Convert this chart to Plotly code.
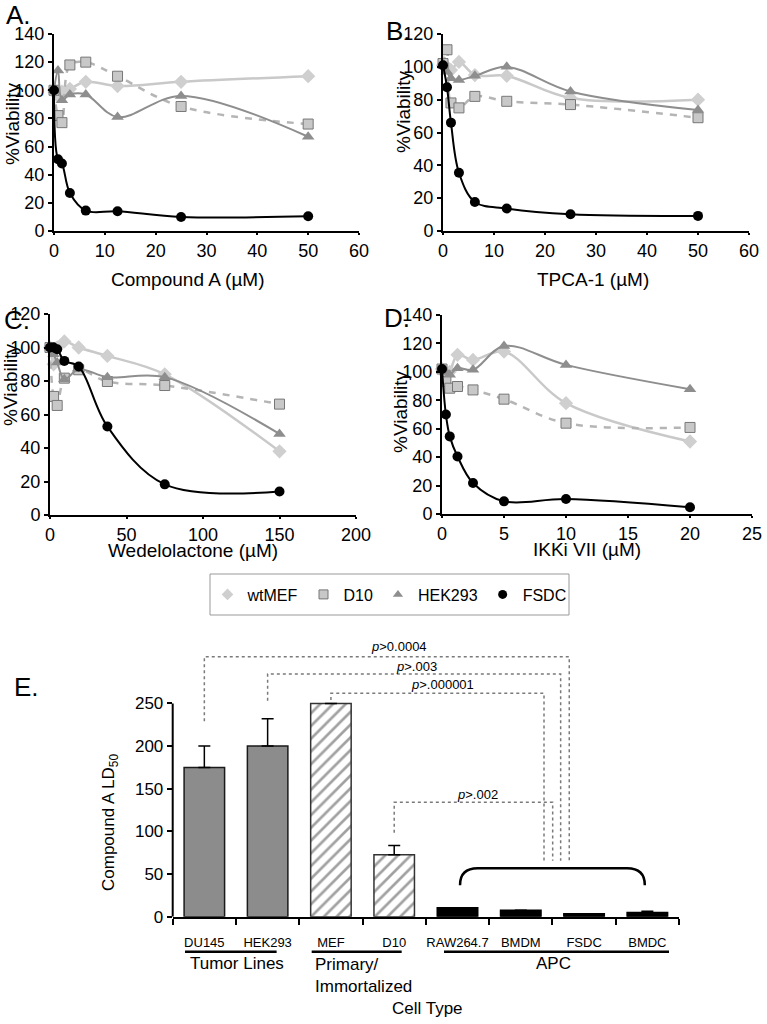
import plotly.graph_objects as go

W, H = 767, 1024
FONT = "Liberation Sans, Arial, sans-serif"


def px(x):
    """pixel x -> paper x"""
    return x / W


def py(y):
    """pixel y (from top) -> paper y"""
    return 1 - y / H


series = ["wtMEF", "D10", "HEK293", "FSDC"]

# Panel A: Compound A
conc_a = [0, 0.78, 1.56, 3.125, 6.25, 12.5, 25, 50]
wtmef_a = [100, 96, 99, 101, 106, 103, 106, 110]
d10_a = [100, 82, 77, 118, 120, 110, 88.5, 76]
hek_a = [100, 114, 93, 97, 97, 81, 96, 67]
fsdc_a = [100, 51, 48, 27, 14.5, 14, 10, 10.5]

# Panel B: TPCA-1
conc_b = [0, 0.78, 1.56, 3.125, 6.25, 12.5, 25, 50]
wtmef_b = [101, 100, 98, 103, 95, 94.5, 81, 80]
d10_b = [102, 110.4, 78, 75, 82, 79, 77, 69]
hek_b = [102, 97, 93, 92, 94.5, 100, 85, 73.7]
fsdc_b = [101, 87.6, 66, 35.5, 17.7, 13.7, 10.2, 9.2]

# Panel C: Wedelolactone
conc_c = [0, 2.34, 4.69, 9.375, 18.75, 37.5, 75, 150]
wtmef_c = [100, 90, 100, 103.6, 100, 95, 84, 38]
d10_c = [100, 70.8, 65.4, 81.7, 86.7, 79.7, 77.3, 66.2]
hek_c = [100, 96, 91, 81, 87, 82.3, 82.3, 48.4]
fsdc_c = [100, 100, 99, 92, 88.7, 52.8, 18.3, 14]

# Panel D: IKKi VII
conc_d = [0, 0.3125, 0.625, 1.25, 2.5, 5, 10, 20]
wtmef_d = [102, 98, 100, 112, 108.4, 114.3, 78, 51]
d10_d = [102, 93.2, 88.5, 89.7, 87.3, 80.8, 63.9, 60.9]
hek_d = [102, 100, 98, 102.6, 101.4, 118.2, 104.9, 87.8]
fsdc_d = [102, 70, 54.6, 40.5, 21.8, 8.9, 10.5, 4.7]

# Panel E: LD50 by cell type
cells = ["DU145", "HEK293", "MEF", "D10", "RAW264.7", "BMDM", "FSDC", "BMDC"]
ld50 = [175, 200, 250, 72.5, 10.5, 7.5, 3.5, 5]
ld50_err = [25, 32, None, 11, None, None, None, 1.5]

STYLE = {
    "wtMEF": dict(line=dict(color="#c9c9c9", width=2.5),
                  marker=dict(symbol="diamond", size=11, color="#cfcfcf")),
    "D10": dict(line=dict(color="#b5b5b5", width=2.5, dash="7px,7px"),
                marker=dict(symbol="square", size=10, color="#c8c8c8",
                            line=dict(color="#777777", width=1))),
    "HEK293": dict(line=dict(color="#8e8e8e", width=2),
                   marker=dict(symbol="triangle-up", size=11, color="#8e8e8e")),
    "FSDC": dict(line=dict(color="black", width=2),
                 marker=dict(symbol="circle", size=10, color="black")),
}

panels = [
    # axis suffix, conc, values, x range, x dtick, y range, domain px (x0, x1, ytop, ybottom)
    ("", conc_a, [wtmef_a, d10_a, hek_a, fsdc_a], [0, 60], 10, [0, 140], (54, 359, 34, 231)),
    ("2", conc_b, [wtmef_b, d10_b, hek_b, fsdc_b], [0, 60], 10, [0, 120], (443, 749, 34, 231)),
    ("3", conc_c, [wtmef_c, d10_c, hek_c, fsdc_c], [0, 200], 50, [0, 120], (50, 356, 314, 515)),
    ("4", conc_d, [wtmef_d, d10_d, hek_d, fsdc_d], [0, 25], 5, [0, 140], (442, 752, 315, 514)),
]

fig = go.Figure()
layout_axes = {}

for suffix, conc, vals, xr, xdt, yr, (x0, x1, yt, yb) in panels:
    for name, v in zip(series, vals):
        st = STYLE[name]
        fig.add_trace(go.Scatter(
            x=conc, y=v, name=name, mode="lines+markers",
            line=dict(st["line"], shape="spline", smoothing=1),
            marker=st["marker"], showlegend=False, cliponaxis=False,
            xaxis="x" + suffix, yaxis="y" + suffix,
        ))
    common = dict(showline=True, linecolor="black", linewidth=2, ticks="outside",
                  tickwidth=1.5, tickcolor="black", showgrid=False,
                  zeroline=False, tickfont=dict(size=18, color="black"))
    layout_axes["xaxis" + suffix] = dict(common, domain=[px(x0), px(x1)], range=xr, ticklen=2,
                                         dtick=xdt, tick0=0, anchor="y" + suffix)
    layout_axes["yaxis" + suffix] = dict(common, domain=[py(yb), py(yt)], range=yr, ticklen=4,
                                         dtick=20, tick0=0, anchor="x" + suffix)

# legend-only traces
for name in series:
    m = dict(STYLE[name]["marker"])
    m["size"] = 9
    fig.add_trace(go.Scatter(x=[None], y=[None], name=name, mode="markers",
                             marker=m, showlegend=True))

# bar chart E
bar_pos = list(range(len(cells)))
bar_colors = ["#8c8c8c", "#8c8c8c", "white", "white", "black", "black", "black", "black"]
bar_lines = ["#1a1a1a", "#1a1a1a", "#333333", "#333333", "black", "black", "black", "black"]
bar_hatch = ["", "", "/", "/", "", "", "", ""]
err_minus = [0 if e else None for e in ld50_err]

fig.add_trace(go.Bar(
    x=bar_pos, y=ld50, width=0.64, showlegend=False,
    marker=dict(color=bar_colors, line=dict(color=bar_lines, width=1.5),
                pattern=dict(shape=bar_hatch, fgcolor="#a8a8a8", size=9,
                             solidity=0.3, fillmode="overlay")),
    error_y=dict(type="data", symmetric=False, array=ld50_err, arrayminus=err_minus,
                 color="black", thickness=1.5, width=6),
    xaxis="x5", yaxis="y5",
))

e_x0, e_x1, e_y0 = 172.7, 679, 916.7
e_scale = 213.3 / 250  # px per unit
e_top = 330
layout_axes["xaxis5"] = dict(
    domain=[px(e_x0), px(e_x1)], range=[-0.5, len(cells) - 0.5], anchor="y5",
    showline=True, linecolor="black", linewidth=2, showgrid=False, zeroline=False,
    tickmode="array", tickvals=bar_pos, ticktext=cells, ticks="",
    tickfont=dict(size=13, color="black"), ticklabelstandoff=13,
    minor=dict(tickmode="linear", tick0=-0.5, dtick=1, ticks="outside",
               ticklen=6, tickwidth=1.5, tickcolor="black", showgrid=False),
)
layout_axes["yaxis5"] = dict(
    domain=[py(e_y0), py(e_y0 - e_top * e_scale)], range=[0, e_top], anchor="x5",
    showline=False, showgrid=False, zeroline=False, tickmode="array",
    tickvals=[0, 50, 100, 150, 200, 250], ticks="outside", ticklen=5, tickwidth=1.5,
    tickcolor="black", tickfont=dict(size=17, color="black"),
)

shapes = []
# E y-axis line (only up to 250)
shapes.append(dict(type="line", xref="paper", yref="y5", x0=px(e_x0), x1=px(e_x0),
                   y0=0, y1=250, line=dict(color="black", width=2)))

# significance brackets: (left x, left start y, top y, right x, label, label x, label y)
sig_lines = [
    (0, 229, 304.7, 5.766, "<i>p</i>&gt;0.0004", 3.08, 316.4),
    (1, 253, 284.4, 5.630, "<i>p</i>&gt;.003", 3.35, 293.8),
    (2, 254, 261.8, 5.367, "<i>p</i>&gt;.000001", 3.76, 272.7),
    (3, 98.4, 134, 5.504, "<i>p</i>&gt;.002", 4.31, 143.8),
]
sig_bottom = 65.6
annotations = []
for xl, ys, yt, xr, label, lx, ly in sig_lines:
    shapes.append(dict(
        type="path", xref="x5", yref="y5",
        path=f"M {xl},{ys} L {xl},{yt} L {xr},{yt} L {xr},{sig_bottom}",
        line=dict(color="#7a7a7a", width=1.5, dash="dot"),
    ))
    annotations.append(dict(xref="x5", yref="y5", x=lx, y=ly, text=label, showarrow=False,
                            xanchor="center", yanchor="middle",
                            font=dict(size=13, color="black")))

# APC curly bracket
shapes.append(dict(type="path", xref="x5", yref="y5",
                   path="M 4.04,37 Q 4.04,56.7 4.32,56.7 L 6.68,56.7 Q 6.96,56.7 6.96,37",
                   line=dict(color="black", width=2.5)))

# group underlines
for xa, xb in [(-0.306, 1.142), (1.696, 3.118), (3.787, 7.342)]:
    shapes.append(dict(type="line", xref="x5", yref="paper", x0=xa, x1=xb,
                       y0=py(951.7), y1=py(951.7), line=dict(color="black", width=2.5)))

# legend frame
shapes.append(dict(type="rect", xref="paper", yref="paper", x0=px(210), x1=px(569),
                   y0=py(615), y1=py(574), line=dict(color="#999999", width=1),
                   fillcolor="white", layer="below"))


def note(text, x, y, size, **kw):
    d = dict(xref="paper", yref="paper", x=px(x), y=py(y), text=text, showarrow=False,
             xanchor="center", yanchor="middle", font=dict(size=size))
    d.update(kw)
    return d


annotations += [
    dict(xref="x5", yref="paper", x=0.516, y=py(963.5), text="Tumor Lines",
         showarrow=False, xanchor="center", yanchor="middle", font=dict(size=17)),
    dict(xref="x5", yref="paper", x=1.72, y=py(953), text="Primary/<br>Immortalized",
         showarrow=False, xanchor="left", yanchor="top", align="left", font=dict(size=17)),
    dict(xref="x5", yref="paper", x=5.51, y=py(963.5), text="APC",
         showarrow=False, xanchor="center", yanchor="middle", font=dict(size=17)),
    note("Cell Type", 427, 1008, 17),
    note("Compound A LD<sub>50</sub>", 110, 823, 17, textangle=-90),
]

# line-panel axis titles and labels
for text, x, y in [("Compound A (µM)", 188, 279), ("TPCA-1 (µM)", 593, 279),
                   ("Wedelolactone (µM)", 193, 550), ("IKKi VII (µM)", 587, 549)]:
    annotations.append(note(text, x, y, 19))
for x, y in [(12, 124), (403, 112), (10, 385), (400, 412)]:
    annotations.append(note("%Viability", x, y, 19, textangle=-90))
for text, x, y in [("A.", 4, 15), ("B.", 384, 31), ("C.", 2, 320), ("D.", 382, 318), ("E.", 12, 687)]:
    annotations.append(note(text, x, y, 26, xanchor="left"))

fig.update_layout(
    width=W, height=H, margin=dict(l=0, r=0, t=0, b=0, autoexpand=False),
    paper_bgcolor="white", plot_bgcolor="white",
    font=dict(family=FONT, color="black"),
    showlegend=True,
    legend=dict(orientation="h", x=px(389.5), xanchor="center", y=py(594.5), yanchor="middle",
                borderwidth=0, bgcolor="rgba(0,0,0,0)", font=dict(size=16)),
    shapes=shapes, annotations=annotations,
    **layout_axes,
)

fig.write_html("out.html", config={"displayModeBar": False},
               post_script="document.body.style.margin = '0';")
